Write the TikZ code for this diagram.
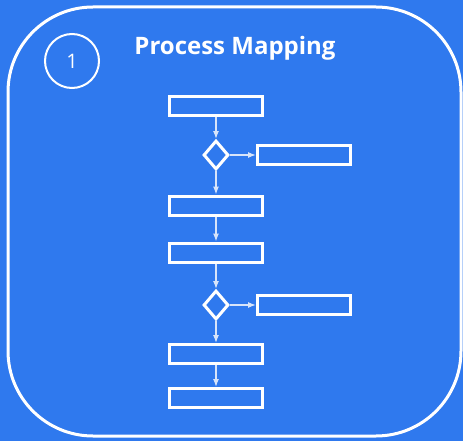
\documentclass[tikz,border=0pt]{standalone}
\usepackage{fontspec}
\setmainfont{Open Sans}
\usetikzlibrary{arrows.meta, positioning, shapes.geometric}
\definecolor{mapblue}{RGB}{47,121,238}
\definecolor{flowline}{RGB}{215,228,250}
\tikzset{
    stepbox/.style={draw=white, line width=3pt, minimum width=93pt, minimum height=19pt, inner sep=0pt},
    choice/.style={draw=white, line width=3pt, diamond, minimum width=25pt, minimum height=29pt, inner sep=0pt},
    flow/.style={draw=flowline, line width=1.2pt, -{Latex[length=8pt,width=6pt]}}
}
\begin{document}
\begin{tikzpicture}[x=1pt, y=-1pt]
    \fill[mapblue] (0,0) rectangle (463,441);
    \useasboundingbox (0,0) rectangle (463,441);
    \draw[white, line width=3pt, rounded corners=85pt] (8,7) rectangle (461,436);
    % header
    \node[draw=white, line width=2pt, circle, minimum size=54pt, inner sep=0pt, text=white, font=\fontsize{20}{20}\selectfont] (num) at (72,61) {1};
    \node[text=white, font=\fontsize{24}{24}\selectfont\bfseries] (title) at (235,48) {Process Mapping};
    % flow
    \node[stepbox] (s1) at (216,106) {};
    \node[choice] (d1) at (216,155) {};
    \node[stepbox] (r1) at (304,155) {};
    \node[stepbox] (s2) at (216,205.5) {};
    \node[stepbox] (s3) at (216,252.5) {};
    \node[choice] (d2) at (216,305) {};
    \node[stepbox] (r2) at (304,305) {};
    \node[stepbox] (s4) at (216,354) {};
    \node[stepbox] (s5) at (216,398) {};
    \draw[flow] (s1) -- (d1);
    \draw[flow] (d1) -- (r1);
    \draw[flow] (d1) -- (s2);
    \draw[flow] (s2) -- (s3);
    \draw[flow] (s3) -- (d2);
    \draw[flow] (d2) -- (r2);
    \draw[flow] (d2) -- (s4);
    \draw[flow] (s4) -- (s5);
\end{tikzpicture}
\end{document}
